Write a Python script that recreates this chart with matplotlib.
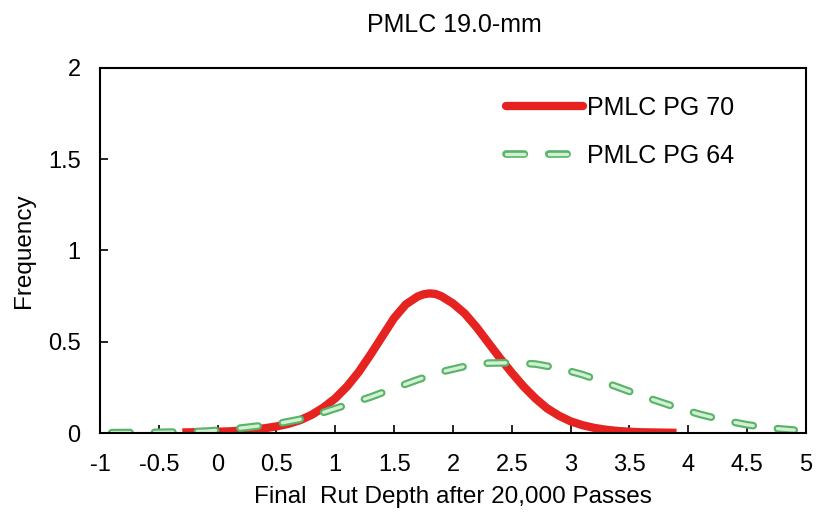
import numpy as np
import matplotlib
matplotlib.use('Agg')
import matplotlib.pyplot as plt

plt.rcParams['font.family'] = ['Liberation Sans', 'DejaVu Sans']

# PMLC PG 70 (red, solid)
x70 = [-0.3, -0.2, -0.1, 0.0, 0.1, 0.2, 0.3, 0.4, 0.5, 0.6, 0.7, 0.8, 0.9,
       1.0, 1.1, 1.2, 1.3, 1.4, 1.5, 1.6, 1.7, 1.75, 1.8, 1.85, 1.9, 2.0, 2.1,
       2.2, 2.3, 2.4, 2.5, 2.6, 2.7, 2.8, 2.9, 3.0, 3.1, 3.2, 3.3, 3.4, 3.5,
       3.6, 3.7, 3.8, 3.9]
y70 = [0.003, 0.004, 0.005, 0.007, 0.009, 0.013, 0.019, 0.026, 0.036, 0.050,
       0.070, 0.100, 0.140, 0.190, 0.255, 0.335, 0.430, 0.530, 0.630, 0.705,
       0.748, 0.760, 0.765, 0.762, 0.750, 0.710, 0.655, 0.580, 0.495, 0.410,
       0.330, 0.255, 0.190, 0.135, 0.095, 0.064, 0.043, 0.028, 0.018, 0.011,
       0.007, 0.004, 0.003, 0.002, 0.001]

# PMLC PG 64 (green, dashed)
x64 = [-0.9, -0.7, -0.5, -0.3, -0.1, 0.1, 0.3, 0.5, 0.7, 0.9, 1.1, 1.3, 1.5,
       1.7, 1.9, 2.1, 2.3, 2.5, 2.7, 2.9, 3.1, 3.3, 3.5, 3.7, 3.9, 4.1, 4.3,
       4.5, 4.7, 4.9]
y64 = [0.002, 0.003, 0.004, 0.006, 0.010, 0.020, 0.035, 0.050, 0.075, 0.113,
       0.155, 0.197, 0.245, 0.292, 0.335, 0.365, 0.383, 0.385, 0.378, 0.355,
       0.320, 0.275, 0.228, 0.183, 0.140, 0.102, 0.070, 0.045, 0.027, 0.016]

fig = plt.figure(figsize=(8.18, 5.15), dpi=100)
ax = fig.add_axes([0.1222, 0.1592, 0.8631, 0.7088])

red = '#e52421'
g_dark = '#58b468'
g_light = '#d4f0d4'
# outline and inner dashes share the same dash/period in points
lw_out, lw_in = 5.5, 2.4
dash_pt, gap_pt = 13.2, 17.6
dash_out = (0, (dash_pt / lw_out, gap_pt / lw_out))
dash_in = (0, (dash_pt / lw_in, gap_pt / lw_in))

ax.plot(x70, y70, color=red, lw=6, solid_capstyle='butt')
ax.plot(x64, y64, color=g_dark, lw=lw_out, linestyle=dash_out, dash_capstyle='round')
ax.plot(x64, y64, color=g_light, lw=lw_in, linestyle=dash_in, dash_capstyle='round')

# legend handles
h1 = ax.plot([], [], color=red, lw=6, solid_capstyle='round')[0]
h2a = ax.plot([], [], color=g_dark, lw=lw_out, linestyle=dash_out, dash_capstyle='round')[0]
h2b = ax.plot([], [], color=g_light, lw=lw_in, linestyle=dash_in, dash_capstyle='round')[0]
ax.legend([h1, (h2a, h2b)], ['PMLC PG 70', 'PMLC PG 64'], loc='upper right',
          bbox_to_anchor=(0.93, 0.985), frameon=False, fontsize=18, handlelength=3.1,
          handletextpad=0.15, labelspacing=0.95)

ax.set_xlim(-1, 5)
ax.set_ylim(0, 2)
ax.set_xticks(np.arange(-1, 5.01, 0.5))
ax.set_xticklabels(['-1', '-0.5', '0', '0.5', '1', '1.5', '2', '2.5', '3', '3.5', '4', '4.5', '5'])
ax.set_yticks([0, 0.5, 1, 1.5, 2])
ax.set_yticklabels(['0', '0.5', '1', '1.5', '2'])
ax.tick_params(direction='in', length=6, width=1.2, labelsize=17)
ax.tick_params(axis='x', pad=15)
ax.tick_params(axis='y', pad=14)
for s in ax.spines.values():
    s.set_linewidth(1.5)

ax.set_xlabel('Final  Rut Depth after 20,000 Passes', fontsize=17.5, labelpad=7)
ax.set_ylabel('Frequency', fontsize=17.5, labelpad=9)
fig.suptitle('PMLC 19.0-mm', fontsize=18, x=0.556, y=0.975)

fig.savefig('out.png', dpi=100)
